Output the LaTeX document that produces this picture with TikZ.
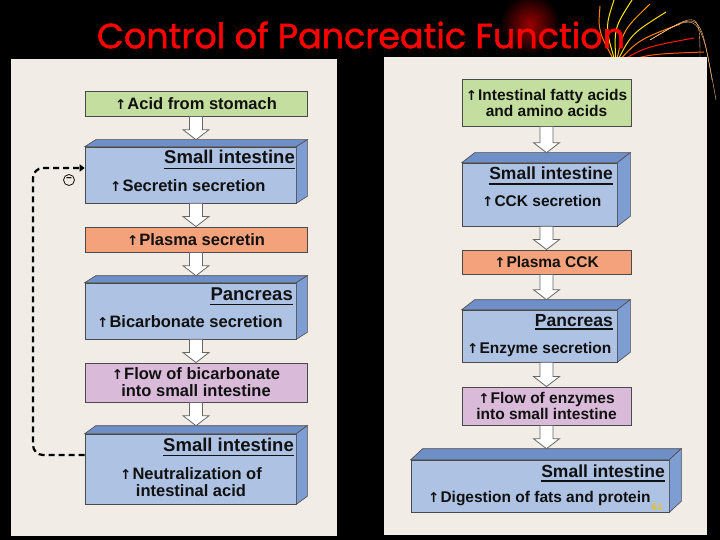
\documentclass[tikz,border=0pt]{standalone}
\usepackage{fontspec}
\setmainfont{Liberation Sans}
\newfontfamily\arrowfont{DejaVu Sans}
\newfontfamily\titlefont[FakeBold=1.3]{Poppins}
\usetikzlibrary{calc,arrows.meta}
\definecolor{panel}{HTML}{F1ECE5}
\definecolor{grn}{HTML}{C4DE9F}
\definecolor{org}{HTML}{F3A27C}
\definecolor{pur}{HTML}{D9BAD8}
\definecolor{frontc}{HTML}{AEC2E4}
\definecolor{topc}{HTML}{6F8FC8}
\definecolor{sidec}{HTML}{7E9ED3}
\definecolor{edge}{HTML}{4A4A4A}
\definecolor{txt}{HTML}{111111}
\definecolor{pageno}{HTML}{E6C229}
\newcommand\incr{{\arrowfont\fontsize{13.5}{13}\selectfont ↑}\hspace{1pt}}
\newcommand\cubefaces[3]{%
  \filldraw[fill=topc,draw=edge,line width=.6pt] (#1.north west) -- ++(#2pt,#3pt) -- ([shift={(#2pt,#3pt)}]#1.north east) -- (#1.north east) -- cycle;
  \filldraw[fill=sidec,draw=edge,line width=.6pt] (#1.north east) -- ++(#2pt,#3pt) -- ([shift={(#2pt,#3pt)}]#1.south east) -- (#1.south east) -- cycle;}
\newcommand\blockarrow[2]{%
  \draw[barrow] let \p1=#1, \p2=#2 in
   (\x1-6.5pt,\y1) -- (\x1+6.5pt,\y1) -- (\x1+6.5pt,\y2+10pt) -- (\x1+13pt,\y2+10pt) -- (\x1,\y2)
   -- (\x1-13pt,\y2+10pt) -- (\x1-6.5pt,\y2+10pt) -- cycle;}
\tikzset{
  flat/.style={draw=edge,line width=.9pt,text=txt,align=center,inner sep=0pt},
  box3d/.style={draw=edge,fill=frontc,line width=.6pt,inner sep=0pt},
  lbody/.style={text=txt,inner sep=0pt,font=\bfseries\fontsize{16.5}{17}\selectfont},
  lhead/.style={text=txt,inner sep=0pt,font=\bfseries\fontsize{18.5}{20}\selectfont,anchor=base east},
  rbody/.style={text=txt,inner sep=0pt,font=\bfseries\fontsize{15.5}{16}\selectfont},
  rhead/.style={text=txt,inner sep=0pt,font=\bfseries\fontsize{17.5}{19}\selectfont,anchor=base east},
  ul/.style={line width=1.6pt,txt},
  barrow/.style={fill=white,draw=gray!80!black,line width=.8pt},
  fb/.style={line width=2.2pt,dash pattern=on 6pt off 4pt,rounded corners=10pt}
}
\begin{document}
\begin{tikzpicture}[x=1pt,y=-1pt]
\useasboundingbox (0,0) rectangle (720,540);
\fill[black] (0,0) rectangle (720,540);
% decoration
\shade[inner color=red!60!black,outer color=black] (530,24) circle (30pt);
\foreach \ex/\ey/\c in {600/6/orange,614/0/yellow!90!orange,632/0/yellow,650/4/orange!80!yellow,666/12/yellow!80!orange,680/24/orange,694/38/red!80!orange,704/52/orange!70!red}{
  \draw[\c,line width=1pt] (616,64) .. controls ($(616,64)!0.5!(\ex,\ey)+(-10,-4)$) .. (\ex,\ey);
}
\foreach \ex/\ey in {700/62,712/80,716/100}{
  \draw[orange!50!white,line width=.4pt] (650,40) .. controls (700,10) .. (\ex,\ey);
}
% panels
\fill[panel] (11,59) rectangle (337,536);
\fill[panel] (384,57) rectangle (707,535);
% title
\node (title) at (361,35) {\resizebox{528pt}{!}{\titlefont\color{red}Control of Pancreatic Function}};
% left column
\node[flat,fill=grn,minimum width=222pt,minimum height=25pt,font=\bfseries\fontsize{16.5}{17}\selectfont] (L1) at (196,103.5) {\incr Acid from stomach};
\node[box3d,minimum width=211pt,minimum height=56pt] (L2) at (190.5,175) {};
\node[flat,fill=org,minimum width=222pt,minimum height=25pt,font=\bfseries\fontsize{16.5}{17}\selectfont] (L3) at (196,239.5) {\incr Plasma secretin};
\node[box3d,minimum width=211pt,minimum height=56pt] (L4) at (190.5,311) {};
\node[flat,fill=pur,minimum width=222pt,minimum height=39pt,font=\bfseries\fontsize{16.5}{17}\selectfont] (L5) at (196,382.5) {\incr Flow of bicarbonate\\into small intestine};
\node[box3d,minimum width=211pt,minimum height=70pt] (L6) at (190.5,469) {};
\cubefaces{L2}{11}{7}
\cubefaces{L4}{11}{7}
\cubefaces{L6}{11}{8}
\node[lhead] (L2h) at (295,164) {Small intestine};
\draw[ul] ([yshift=-4.5pt]L2h.base west) -- ([yshift=-4.5pt]L2h.base east);
\node[lbody,anchor=base west] (L2t) at (110,192) {\incr Secretin secretion};
\node[lhead] (L4h) at (293,300) {Pancreas};
\draw[ul] ([yshift=-4.5pt]L4h.base west) -- ([yshift=-4.5pt]L4h.base east);
\node[lbody,anchor=base west] (L4t) at (97,327) {\incr Bicarbonate secretion};
\node[lhead] (L6h) at (294,451) {Small intestine};
\draw[ul] ([yshift=-4.5pt]L6h.base west) -- ([yshift=-4.5pt]L6h.base east);
\node[lbody,align=center] (L6t) at (191,482) {\incr Neutralization of\\intestinal acid};
\blockarrow{(L1.south)}{($(L1.south |- L2.north)+(0pt,7pt)$)}
\blockarrow{($(L3.north |- L2.south)$)}{(L3.north)}
\blockarrow{(L3.south)}{($(L3.south |- L4.north)+(0pt,7pt)$)}
\blockarrow{($(L5.north |- L4.south)$)}{(L5.north)}
\blockarrow{(L5.south)}{($(L5.south |- L6.north)+(0pt,8pt)$)}
% feedback
\coordinate (fbA) at (33,455);
\coordinate (fbB) at (33,168);
\draw[fb,-{Triangle[length=5pt,width=7pt]}] ([yshift=14pt]L6.west) -- (fbA) -- (fbB) -- ([yshift=7pt]L2.west);
\node[circle,draw=txt,line width=.8pt,inner sep=0pt,minimum size=11pt,font=\bfseries\fontsize{10}{10}\selectfont] (minus) at (69,180) {−};
% right column
\node[flat,fill=grn,minimum width=169pt,minimum height=47pt,font=\bfseries\fontsize{15.5}{16}\selectfont] (R1) at (546.5,102.5) {\incr Intestinal fatty acids\\and amino acids};
\node[box3d,minimum width=155pt,minimum height=63pt] (R2) at (539.5,194.5) {};
\node[flat,fill=org,minimum width=169pt,minimum height=24pt,font=\bfseries\fontsize{15.5}{16}\selectfont] (R3) at (546.5,262) {\incr Plasma CCK};
\node[box3d,minimum width=155pt,minimum height=52pt] (R4) at (539.5,336) {};
\node[flat,fill=pur,minimum width=169pt,minimum height=38pt,font=\bfseries\fontsize{15.5}{16}\selectfont] (R5) at (546.5,406) {\incr Flow of enzymes\\into small intestine};
\node[box3d,minimum width=258pt,minimum height=52pt] (R6) at (540,486) {};
\cubefaces{R2}{13}{10}
\cubefaces{R4}{13}{10}
\cubefaces{R6}{12}{11}
\node[rhead] (R2h) at (613,180) {Small intestine};
\draw[ul] ([yshift=-4pt]R2h.base west) -- ([yshift=-4pt]R2h.base east);
\node[rbody,anchor=base west] (R2t) at (482,207) {\incr CCK secretion};
\node[rhead] (R4h) at (613,326) {Pancreas};
\draw[ul] ([yshift=-3pt]R4h.base west) -- ([yshift=-3pt]R4h.base east);
\node[rbody,anchor=base west] (R4t) at (467,353) {\incr Enzyme secretion};
\node[rhead] (R6h) at (665,477) {Small intestine};
\draw[ul] ([yshift=-4pt]R6h.base west) -- ([yshift=-4pt]R6h.base east);
\node[rbody,anchor=base west] (R6t) at (428,502) {\incr Digestion of fats and protein};
\blockarrow{(R1.south)}{($(R1.south |- R2.north)+(0pt,10pt)$)}
\blockarrow{($(R3.north |- R2.south)$)}{(R3.north)}
\blockarrow{(R3.south)}{($(R3.south |- R4.north)+(0pt,10pt)$)}
\blockarrow{($(R5.north |- R4.south)$)}{(R5.north)}
\blockarrow{(R5.south)}{($(R5.south |- R6.north)+(0pt,11pt)$)}
\node[text=pageno,font=\bfseries\fontsize{10}{10}\selectfont,inner sep=0pt] (pg) at (657,507) {61};
\end{tikzpicture}
\end{document}
